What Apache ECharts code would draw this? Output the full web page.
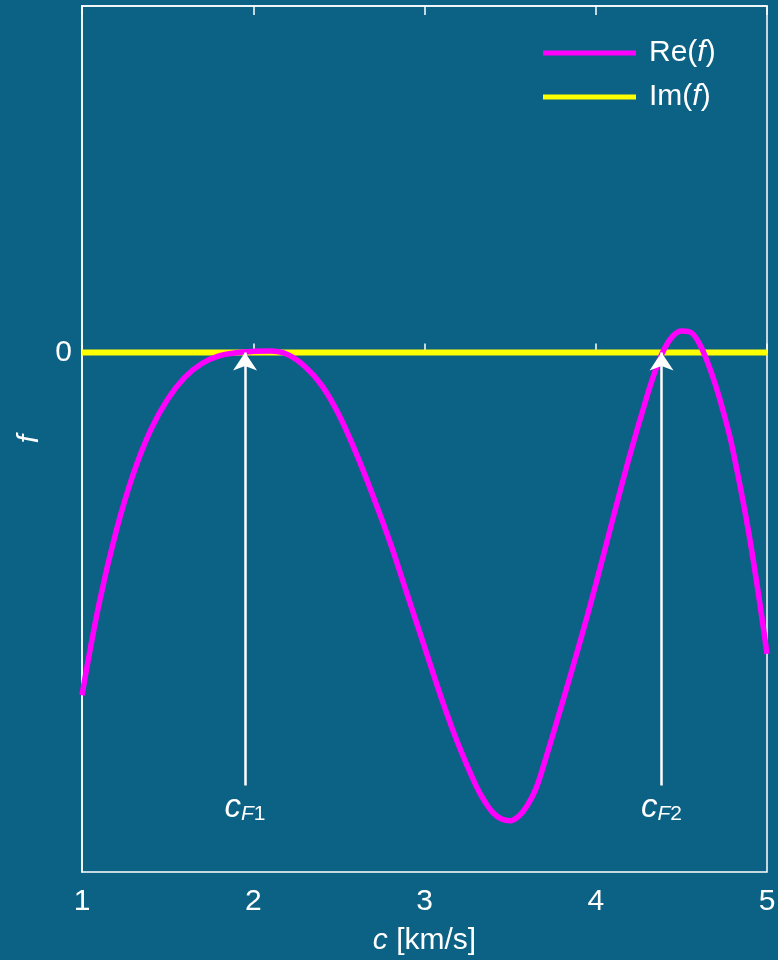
<!DOCTYPE html>
<html>
<head>
<meta charset="utf-8">
<script src="https://cdn.jsdelivr.net/npm/echarts@6/dist/echarts.min.js"></script>
<style>
html,body{margin:0;padding:0;background:#0c6285;}
#chart{width:778px;height:960px;}
</style>
</head>
<body>
<div id="chart"></div>
<script>
const xValues = [1.0,1.1,1.2,1.3,1.4,1.5,1.6,1.7,1.8,1.9,2.0,2.1,2.2,2.3,2.4,2.5,2.6,2.7,2.8,2.9,3.0,3.1,3.2,3.3,3.35,3.4,3.45,3.5,3.55,3.6,3.65,3.7,3.8,3.9,4.0,4.1,4.2,4.3,4.35,4.4,4.45,4.5,4.55,4.6,4.65,4.7,4.75,4.8,4.9,5.0];
const reValues = [-0.99,-0.725,-0.515,-0.35,-0.225,-0.135,-0.072,-0.032,-0.01,-0.001,0.003,0.004,-0.006,-0.04,-0.095,-0.18,-0.29,-0.415,-0.55,-0.70,-0.85,-1.0,-1.135,-1.25,-1.295,-1.329,-1.347,-1.352,-1.339,-1.308,-1.26,-1.185,-1.02,-0.85,-0.67,-0.48,-0.295,-0.125,-0.05,0.01,0.047,0.062,0.059,0.03,-0.025,-0.095,-0.18,-0.28,-0.54,-0.87];
const imX = [1, 5];
const imValues = [0, 0];
const rootX = [1.952, 4.384];
const rootSubs = ['F1', 'F2'];
const arrowBase = -1.25;
const seriesNames = ['Re(f)', 'Im(f)'];
const yTickLabels = ['0'];

const FONT = '"Liberation Sans", Arial, sans-serif';
const chart = echarts.init(document.getElementById('chart'));

const reData = xValues.map((x, i) => [x, reValues[i]]);
const imData = imX.map((x, i) => [x, imValues[i]]);

const subRich = {
  c: {fontStyle: 'italic', fontSize: 33, color: '#fff', fontFamily: FONT},
  f: {fontStyle: 'italic', fontSize: 21, color: '#fff', fontFamily: FONT, padding: [12, 0, 0, 0]},
  n: {fontSize: 21, color: '#fff', fontFamily: FONT, padding: [12, 0, 0, 0]}
};

chart.setOption({
  backgroundColor: '#0c6285',
  animation: false,
  textStyle: {fontFamily: FONT},
  grid: {left: 82, right: 11, top: 6, bottom: 88, show: true, borderColor: '#ffffff', borderWidth: 1.5,
    backgroundColor: 'transparent', containLabel: false, outerBoundsMode: 'none'},
  legend: {
    orient: 'vertical',
    left: 543,
    top: 38,
    padding: 0,
    itemWidth: 93,
    itemHeight: 5,
    itemGap: 14,
    icon: 'rect',
    data: seriesNames,
    formatter: function (name) { return name.replace('(f)', '({i|f})'); },
    textStyle: {
      color: '#fff', fontSize: 30, fontFamily: FONT, padding: [0, 0, 0, 8],
      rich: {i: {fontStyle: 'italic', fontSize: 30, color: '#fff', fontFamily: FONT}}
    }
  },
  xAxis: [{
    type: 'value', min: 1, max: 5, interval: 1,
    name: '{i|c} [km/s]', nameLocation: 'middle', nameGap: 54,
    nameTextStyle: {color: '#fff', fontSize: 30, fontFamily: FONT,
      rich: {i: {fontStyle: 'italic', fontSize: 30, color: '#fff', fontFamily: FONT}}},
    axisLine: {show: true, lineStyle: {color: '#fff', width: 1.5}},
    axisTick: {show: true, inside: true, length: 9, lineStyle: {color: '#fff', width: 1.5}},
    axisLabel: {color: '#fff', fontSize: 30, margin: 15, fontFamily: FONT},
    splitLine: {show: false}
  }, {
    type: 'value', min: 1, max: 5, interval: 1, position: 'top',
    axisLine: {show: true, lineStyle: {color: '#fff', width: 1.5}},
    axisTick: {show: true, inside: true, length: 9, lineStyle: {color: '#fff', width: 1.5}},
    axisLabel: {show: false},
    splitLine: {show: false}
  }],
  yAxis: {
    type: 'value', min: -1.5, max: 1, interval: 0.5,
    name: 'f', nameLocation: 'middle', nameGap: 36, nameRotate: 90,
    nameTextStyle: {color: '#fff', fontSize: 30, fontStyle: 'italic', fontFamily: FONT},
    axisLine: {show: true, lineStyle: {color: '#fff', width: 1.5}},
    axisTick: {show: false},
    axisLabel: {color: '#fff', fontSize: 30, margin: 10, fontFamily: FONT,
      formatter: function (v) { return yTickLabels.indexOf(String(v)) >= 0 ? String(v) : ''; }},
    splitLine: {show: false}
  },
  series: [{
    name: seriesNames[1], type: 'line', data: imData, showSymbol: false,
    color: '#ffff00', lineStyle: {color: '#ffff00', width: 6}, z: 2
  }, {
    name: seriesNames[0], type: 'line', data: reData, showSymbol: false, smooth: 0.4,
    color: '#ff00ff', lineStyle: {color: '#ff00ff', width: 5.5}, z: 3
  }, {
    type: 'line', data: [], z: 5,
    markLine: {
      silent: true,
      symbol: ['none', 'arrow'],
      symbolSize: 18,
      lineStyle: {color: '#fff', width: 2.5, type: 'solid'},
      label: {show: true, position: 'start', distance: 6,
        formatter: function (p) { return '{c|c}{f|' + p.data.sub[0] + '}{n|' + p.data.sub.slice(1) + '}'; },
        rich: subRich},
      data: rootX.map((x, i) => [
        {coord: [x, arrowBase], sub: rootSubs[i]},
        {coord: [x, 0]}
      ])
    }
  }]
});
</script>
</body>
</html>
